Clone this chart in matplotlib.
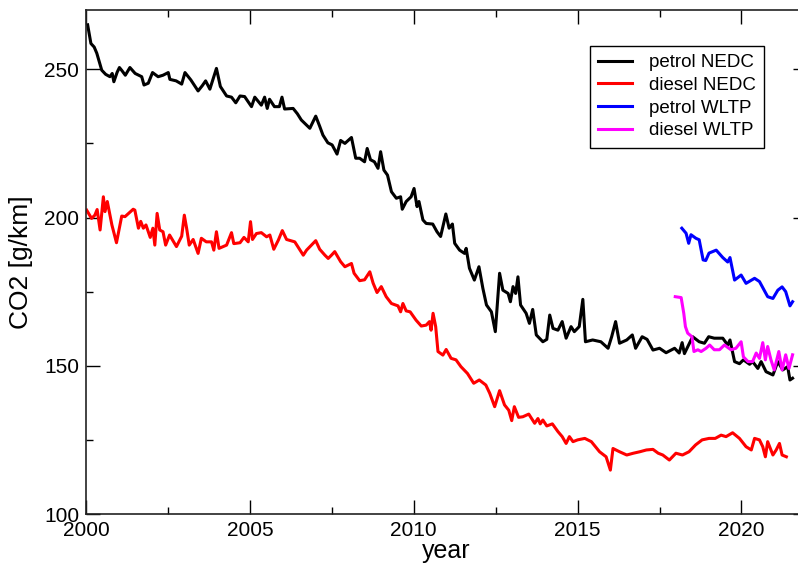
import matplotlib
matplotlib.use("Agg")
import matplotlib.pyplot as plt
from matplotlib.ticker import MultipleLocator

plt.rcParams['font.family'] = ['Liberation Sans', 'DejaVu Sans']

#petrol NEDC (decimal year, g/km)
petrol_nedc_year = [2000.05, 2000.15, 2000.25, 2000.33, 2000.48, 2000.6, 2000.73, 2000.8, 2000.85, 2000.95,
                    2001.02, 2001.1, 2001.2, 2001.34, 2001.5, 2001.7, 2001.77, 2001.9, 2002.03, 2002.2,
                    2002.35, 2002.51, 2002.56, 2002.75, 2002.92, 2003.02, 2003.2, 2003.42, 2003.55, 2003.65,
                    2003.78, 2003.98, 2004.1, 2004.29, 2004.44, 2004.57, 2004.7, 2004.84, 2005.05, 2005.15,
                    2005.35, 2005.45, 2005.53, 2005.6, 2005.75, 2005.9, 2005.98, 2006.06, 2006.32, 2006.45,
                    2006.57, 2006.83, 2007.01, 2007.13, 2007.23, 2007.38, 2007.51, 2007.66, 2007.77, 2007.9,
                    2008.1, 2008.23, 2008.35, 2008.5, 2008.58, 2008.68, 2008.8, 2008.91, 2008.99, 2009.09,
                    2009.2, 2009.32, 2009.47, 2009.6, 2009.65, 2009.77, 2009.92, 2010.01, 2010.1, 2010.16,
                    2010.28, 2010.38, 2010.58, 2010.71, 2010.82, 2010.98, 2011.08, 2011.18, 2011.25, 2011.4,
                    2011.55, 2011.6, 2011.7, 2011.85, 2011.99, 2012.11, 2012.22, 2012.37, 2012.49, 2012.62,
                    2012.72, 2012.88, 2012.95, 2013.03, 2013.11, 2013.18, 2013.26, 2013.43, 2013.53, 2013.63,
                    2013.74, 2013.94, 2014.06, 2014.15, 2014.25, 2014.4, 2014.53, 2014.65, 2014.8, 2014.9,
                    2015.05, 2015.16, 2015.24, 2015.46, 2015.71, 2015.93, 2016.04, 2016.16, 2016.28, 2016.5,
                    2016.67, 2016.77, 2016.97, 2017.12, 2017.3, 2017.5, 2017.7, 2017.96, 2018.1, 2018.19,
                    2018.26, 2018.51, 2018.71, 2018.87, 2019.0, 2019.17, 2019.43, 2019.58, 2019.65, 2019.79,
                    2019.94, 2020.06, 2020.25, 2020.34, 2020.5, 2020.6, 2020.75, 2020.96, 2021.11, 2021.26,
                    2021.41, 2021.48, 2021.56]
petrol_nedc = [265, 258.7, 257.5, 255.4, 249.7, 248.3, 247.5, 248.6, 245.8, 249,
               250.6, 249.5, 248, 250.6, 248.6, 247.5, 244.7, 245.3, 248.9, 247.5,
               248, 248.9, 246.6, 246.1, 245, 248.9, 246.4, 242.7, 244.5, 246.1,
               243.3, 250.3, 244.2, 241, 240.6, 238.7, 241, 240.8, 237.4, 240.6,
               237.9, 240.6, 236.8, 239.9, 237.4, 237.4, 240.6, 236.6, 236.8, 235,
               232.9, 230.1, 234.2, 230.8, 227.8, 225.2, 224.5, 221.4, 226, 225,
               227, 220, 220, 218.8, 223.3, 219.5, 218.8, 216.6, 222.2, 216,
               214.3, 208.7, 206.5, 207, 202.8, 205.4, 207, 209.8, 203.7, 205.4,
               199.2, 198, 197.8, 195.2, 193.6, 201.2, 196.4, 197.8, 191.3, 189,
               187.9, 189.6, 182.9, 178.9, 183.4, 176.1, 170.5, 168.2, 161.5, 181.2,
               175.5, 174.4, 171.6, 176.7, 174.4, 180, 170.5, 167.7, 164.3, 169,
               160.4, 158.1, 158.9, 167.1, 162.6, 162, 164.9, 159.3, 163.2, 161.5,
               163.2, 172.4, 158.1, 158.7, 158.1, 155.9, 159.8, 164.9, 157.6, 158.7,
               160.4, 155.9, 159.8, 158.9, 155.3, 155.9, 154.4, 155.9, 154.3, 157.8,
               154.1, 159.8, 158.1, 157.6, 159.8, 159.3, 159.3, 157, 158.7, 151.4,
               150.7, 152, 150.5, 151.4, 149.1, 151.4, 148, 146.9, 151.4, 148.6,
               149.7, 145.2, 145.8]

#diesel NEDC
diesel_nedc_year = [2000.02, 2000.17, 2000.27, 2000.34, 2000.43, 2000.53, 2000.58, 2000.65, 2000.71, 2000.79,
                    2000.93, 2001.09, 2001.19, 2001.44, 2001.49, 2001.6, 2001.67, 2001.75, 2001.83, 2001.96,
                    2002.04, 2002.1, 2002.17, 2002.25, 2002.35, 2002.43, 2002.55, 2002.76, 2002.92, 2003.0,
                    2003.07, 2003.15, 2003.27, 2003.42, 2003.52, 2003.67, 2003.83, 2003.9, 2003.98, 2004.06,
                    2004.29, 2004.44, 2004.51, 2004.7, 2004.82, 2004.95, 2005.02, 2005.08, 2005.2, 2005.35,
                    2005.51, 2005.61, 2005.73, 2005.87, 2005.99, 2006.12, 2006.37, 2006.63, 2006.73, 2007.01,
                    2007.13, 2007.29, 2007.39, 2007.49, 2007.59, 2007.77, 2007.9, 2008.1, 2008.18, 2008.35,
                    2008.5, 2008.66, 2008.76, 2008.88, 2009.01, 2009.16, 2009.32, 2009.52, 2009.6, 2009.67,
                    2009.77, 2009.89, 2010.07, 2010.23, 2010.38, 2010.48, 2010.53, 2010.59, 2010.67, 2010.74,
                    2010.89, 2010.99, 2011.14, 2011.29, 2011.44, 2011.64, 2011.83, 2012.0, 2012.2, 2012.32,
                    2012.47, 2012.62, 2012.77, 2012.9, 2012.99, 2013.07, 2013.2, 2013.33, 2013.51, 2013.69,
                    2013.79, 2013.86, 2013.94, 2014.06, 2014.23, 2014.4, 2014.53, 2014.65, 2014.75, 2014.86,
                    2015.0, 2015.22, 2015.42, 2015.67, 2015.87, 2016.0, 2016.08, 2016.28, 2016.5, 2016.7,
                    2016.9, 2017.1, 2017.3, 2017.46, 2017.6, 2017.8, 2018.0, 2018.2, 2018.4, 2018.6,
                    2018.8, 2019.01, 2019.2, 2019.38, 2019.53, 2019.73, 2019.94, 2020.14, 2020.3, 2020.4,
                    2020.55, 2020.65, 2020.73, 2020.8, 2020.96, 2021.06, 2021.16, 2021.24, 2021.37]
diesel_nedc = [202.5, 199.7, 200.8, 202.7, 195.8, 207, 202, 205.4, 202, 197.5,
               191.5, 200.5, 200.3, 202.8, 202.5, 196.4, 198.7, 196.4, 197.5, 193.3,
               196.4, 190.7, 201.4, 195.8, 195.2, 190.7, 194.1, 190.2, 193.7, 200.8,
               196.4, 190.7, 192.6, 187.9, 193, 191.8, 191.8, 189, 195.2, 189.6,
               190.7, 194.9, 191.2, 191.5, 193.3, 191.8, 198.6, 192.6, 194.6, 194.9,
               193.5, 194.1, 189.3, 192.4, 195.6, 192.6, 191.8, 187.3, 189, 192.2,
               189.3, 187.3, 186.2, 187.3, 188.5, 185.1, 183.4, 184.5, 181.2, 178.7,
               179, 181.7, 177.9, 174.7, 176.7, 173.3, 171, 170.2, 168.2, 171,
               168.5, 168.2, 165.4, 163.4, 163.7, 164.9, 162, 167.7, 163.2, 154.8,
               153.6, 155.5, 152.5, 152, 149.7, 147.4, 144.1, 145.2, 143.5, 140.7,
               136.2, 141.6, 136.8, 135, 131.5, 136.2, 132.6, 132.8, 133.7, 130.6,
               132.2, 130.4, 131.7, 129.7, 130.4, 127.8, 126.1, 123.8, 126.1, 124.4,
               125, 125.5, 124.4, 121, 119.3, 114.8, 122.1, 121, 119.9, 120.5,
               121, 121.6, 121.8, 120.5, 119.9, 118.2, 120.5, 119.9, 121, 123.3,
               125, 125.5, 125.5, 126.6, 126.1, 127.4, 125.5, 122.7, 121.6, 125.5,
               125, 122.7, 119.3, 124.4, 119.9, 121.6, 123.8, 119.9, 119.3]

#petrol WLTP
petrol_wltp_year = [2018.18, 2018.31, 2018.39, 2018.46, 2018.61, 2018.71, 2018.83, 2018.91, 2019.01, 2019.23,
                    2019.43, 2019.58, 2019.65, 2019.79, 2019.99, 2020.14, 2020.4, 2020.55, 2020.8, 2020.96,
                    2021.11, 2021.24, 2021.35, 2021.48, 2021.56]
petrol_wltp = [196.4, 194.7, 191.3, 194.2, 193, 192.5, 185.7, 185.5, 188, 189,
               186.5, 185, 186.5, 178.9, 180.6, 177.8, 179.5, 178.4, 173.3, 172.7,
               175.5, 176.6, 175, 170.2, 171.6]

#diesel WLTP
diesel_wltp_year = [2017.98, 2018.16, 2018.24, 2018.29, 2018.36, 2018.49, 2018.55, 2018.67, 2018.77, 2018.92,
                    2019.03, 2019.17, 2019.33, 2019.48, 2019.68, 2019.83, 2019.99, 2020.06, 2020.2, 2020.34,
                    2020.45, 2020.55, 2020.65, 2020.73, 2020.8, 2020.9, 2021.0, 2021.14, 2021.24, 2021.35,
                    2021.45, 2021.56]
diesel_wltp = [173.3, 173, 167.7, 163.2, 161, 159.8, 154.8, 155.4, 154.8, 155.9,
               157, 155.4, 155.4, 157, 155.4, 155.9, 158.1, 153, 151.4, 151.4,
               154.3, 152.5, 157.8, 152, 156.5, 152, 148.6, 154.8, 148.6, 153.7,
               149.1, 153.7]

fig = plt.figure(figsize=(7.98, 5.63), dpi=100)
ax = fig.add_axes([86/798, 49/563, 721/798, 504/563])

lw = 2.2
ax.plot(petrol_nedc_year, petrol_nedc, color='black', lw=lw, label='petrol NEDC')
ax.plot(diesel_nedc_year, diesel_nedc, color='red', lw=lw, label='diesel NEDC')
ax.plot(petrol_wltp_year, petrol_wltp, color='blue', lw=lw, label='petrol WLTP')
ax.plot(diesel_wltp_year, diesel_wltp, color='magenta', lw=lw, label='diesel WLTP')

ax.set_xlim(2000, 2022)
ax.set_ylim(100, 270)
ax.xaxis.set_major_locator(MultipleLocator(5))
ax.xaxis.set_minor_locator(MultipleLocator(2.5))
ax.yaxis.set_major_locator(MultipleLocator(50))
ax.yaxis.set_minor_locator(MultipleLocator(25))
ax.tick_params(which='both', direction='in', top=True, right=True, labelsize=15, width=1)
ax.tick_params(which='major', length=10, pad=5)
ax.tick_params(which='minor', length=5)
for s in ax.spines.values():
    s.set_linewidth(1.2)
    s.set_color('#222222')

ax.set_xlabel('year', fontsize=18, labelpad=-1)
ax.set_ylabel('CO2 [g/km]', fontsize=19, labelpad=8)

leg = ax.legend(loc='upper left', bbox_to_anchor=(0.686, 0.948), fontsize=13.5, fancybox=False,
                edgecolor='black', framealpha=1, handlelength=1.8, handletextpad=0.9,
                labelspacing=0.3, borderpad=0.45)
leg.get_frame().set_linewidth(1)

fig.savefig('out.png', dpi=100)
